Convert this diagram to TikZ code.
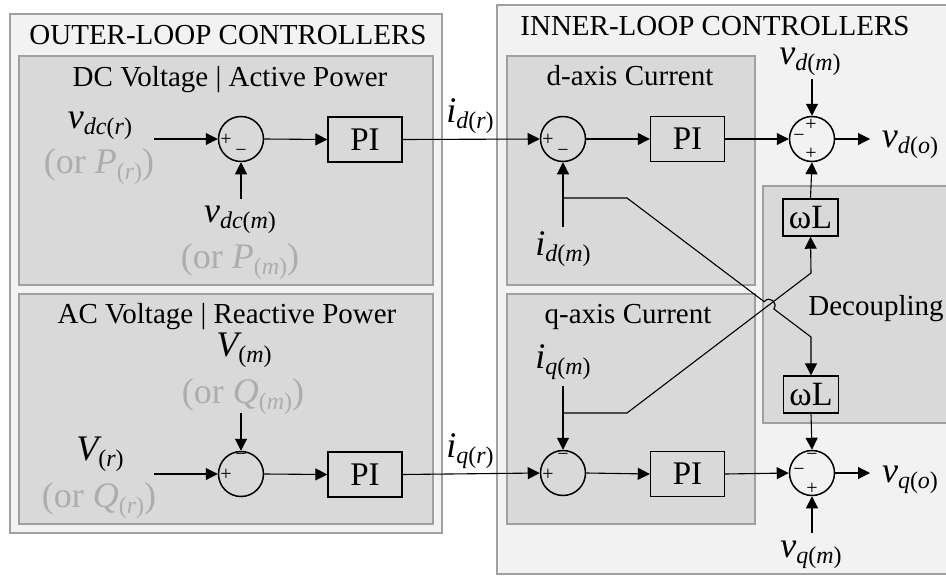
\documentclass[tikz,border=0pt]{standalone}
\usepackage{fontspec}
\setmainfont{Liberation Serif}
\usetikzlibrary{arrows.meta}
\definecolor{outerfill}{HTML}{F2F2F2}
\definecolor{innerfill}{HTML}{D9D9D9}
\definecolor{boxline}{HTML}{A0A0A0}
\definecolor{ortext}{HTML}{ADADAD}
\newcommand\bigsym[2]{{\fontsize{36}{36}\selectfont\itshape #1}\raisebox{-6pt}{\fontsize{24}{24}\selectfont #2}}
\newcommand\orlab[2]{{\fontsize{36}{36}\selectfont (or }\bigsym{#1}{(\textit{#2})}{\fontsize{36}{36}\selectfont )}}
\tikzset{
  grpouter/.style={draw=boxline, fill=outerfill, line width=1.5pt},
  grpinner/.style={draw=boxline, fill=innerfill, line width=1.5pt},
  sumnode/.style={circle, draw, line width=1.5pt, minimum size=45pt, inner sep=0pt},
  piblock/.style={draw, line width=1.4pt, minimum width=74pt, minimum height=45pt, inner sep=0pt, font=\fontsize{33}{33}\selectfont},
  wlblock/.style={draw, line width=1.4pt, minimum width=55pt, minimum height=37pt, inner sep=0pt, font=\fontsize{34}{34}\selectfont},
  sig/.style={font=\fontsize{20}{20}\selectfont, inner sep=0pt},
  conn/.style={line width=1.1pt},
  arr/.style={conn, -{Triangle[length=12pt,width=12pt]}},
  ttl/.style={anchor=base, font=\fontsize{29}{29}\selectfont, inner sep=0pt},
  lbl/.style={anchor=base, inner sep=0pt},
  graylbl/.style={anchor=base, inner sep=0pt, text=ortext}
}
\begin{document}
\begin{tikzpicture}[x=1pt,y=-1pt]
\useasboundingbox (0,0) rectangle (946,576);
% group boxes
\draw[grpouter] (10,14) rectangle (442,533);
\draw[grpinner] (19,56) rectangle (433,285);
\draw[grpinner] (19,294) rectangle (433,524);
\draw[grpouter] (497,5) rectangle (955,574);
\draw[grpinner] (507,56) rectangle (755,285);
\draw[grpinner] (507,294) rectangle (755,524);
\draw[grpinner] (763,186) rectangle (955,423);
% titles
\node[ttl] (t1) at (228,44) {OUTER-LOOP CONTROLLERS};
\node[ttl] (t2) at (230,86) {DC Voltage | Active Power};
\node[ttl] (t3) at (227,323) {AC Voltage | Reactive Power};
\node[ttl] (t4) at (715,35) {INNER-LOOP CONTROLLERS};
\node[ttl] (t5) at (630,85) {d-axis Current};
\node[ttl] (t6) at (628,323) {q-axis Current};
\node[ttl] (t7) at (876,315) {Decoupling};
% summing junctions
\node[sumnode] (s1) at (241,139) {};
\node[sumnode] (s2) at (241,474) {};
\node[sumnode] (s3) at (563,139) {};
\node[sumnode] (s4) at (563,473) {};
\node[sumnode] (s5) at (812,139) {};
\node[sumnode] (s6) at (812,473) {};
% signs
\node[sig] (g1a) at (226,140) {+};
\node[sig] (g1b) at (241,153) {−};
\node[sig] (g2a) at (226,475) {+};
\node[sig] (g2b) at (241,457) {−};
\node[sig] (g3a) at (548,140) {+};
\node[sig] (g3b) at (563,153) {−};
\node[sig] (g4a) at (548,475) {+};
\node[sig] (g4b) at (563,457) {−};
\node[sig] (g5a) at (799,138) {−};
\node[sig] (g5b) at (811,125) {+};
\node[sig] (g5c) at (811,154) {+};
\node[sig] (g6a) at (812,457) {−};
\node[sig] (g6b) at (799,472) {−};
\node[sig] (g6c) at (812,489) {+};
% blocks
\node[piblock] (p1) at (365,139.5) {PI};
\node[piblock] (p2) at (365,474.5) {PI};
\node[piblock] (p3) at (687.5,139) {PI};
\node[piblock] (p4) at (687.5,474) {PI};
\node[wlblock] (w1) at (810.5,217.5) {ωL};
\node[wlblock] (w2) at (811,394.5) {ωL};
% labels
\node[lbl] (l1) at (100,128) {\bigsym{v}{\textit{dc}(\textit{r})}};
\node[graylbl] (l2) at (99,173) {\orlab{P}{r}};
\node[lbl] (l3) at (240,222) {\bigsym{v}{\textit{dc}(\textit{m})}};
\node[graylbl] (l4) at (240,268) {\orlab{P}{m}};
\node[lbl] (l5) at (244,356) {\bigsym{V}{(\textit{m})}};
\node[graylbl] (l6) at (243,403) {\orlab{Q}{m}};
\node[lbl] (l7) at (100,460) {\bigsym{V}{(\textit{r})}};
\node[graylbl] (l8) at (99,507) {\orlab{Q}{r}};
\node[lbl] (l9) at (470,122) {\bigsym{i}{\textit{d}(\textit{r})}};
\node[lbl] (l10) at (470,457) {\bigsym{i}{\textit{q}(\textit{r})}};
\node[lbl] (l11) at (563,255) {\bigsym{i}{\textit{d}(\textit{m})}};
\node[lbl] (l12) at (563,368) {\bigsym{i}{\textit{q}(\textit{m})}};
\node[lbl] (l13) at (810,64) {\bigsym{v}{\textit{d}(\textit{m})}};
\node[lbl] (l14) at (910,147) {\bigsym{v}{\textit{d}(\textit{o})}};
\node[lbl] (l15) at (910,482) {\bigsym{v}{\textit{q}(\textit{o})}};
\node[lbl] (l16) at (811,557) {\bigsym{v}{\textit{q}(\textit{m})}};
% connector end points
\coordinate (in1) at (154,139);
\coordinate (in1m) at (241,199);
\coordinate (in2) at (154,474);
\coordinate (in2m) at (241,413);
\coordinate (idm) at (563,227);
\coordinate (iqm) at (563,386);
\coordinate (vdm) at (812,79);
\coordinate (vqm) at (812,533);
\coordinate (out1) at (870,139);
\coordinate (out2) at (870,473);
\coordinate (br1) at (563,198);
\coordinate (k1) at (627,198);
\coordinate (j1) at (764.2,301.7);
\coordinate (jc1) at (769,295.3);
\coordinate (jc2) at (778.6,302.5);
\coordinate (j2) at (773.8,308.9);
\coordinate (k2) at (811,337);
\coordinate (br2) at (563,413);
\coordinate (k3) at (627,413);
\coordinate (k4) at (811,273);
% connectors
\draw[arr] (in1) -- (s1.west);
\draw[arr] (in1m) -- (s1.south);
\draw[arr] (s1.east) -- (p1.west);
\draw[arr] (p1.east) -- (s3.west);
\draw[arr] (s3.east) -- (p3.west);
\draw[arr] (p3.east) -- (s5.west);
\draw[arr] (vdm) -- (s5.north);
\draw[arr] (s5.east) -- (out1);
\draw[arr] (w1.north) -- (s5.south);
\draw[arr] (idm) -- (s3.south);
\draw[arr] (br1) -- (k1) -- (j1) .. controls (jc1) and (jc2) .. (j2) -- (k2) -- (w2.north);
\draw[arr] (in2) -- (s2.west);
\draw[arr] (in2m) -- (s2.north);
\draw[arr] (s2.east) -- (p2.west);
\draw[arr] (p2.east) -- (s4.west);
\draw[arr] (iqm) -- (s4.north);
\draw[arr] (br2) -- (k3) -- (k4) -- (w1.south);
\draw[arr] (s4.east) -- (p4.west);
\draw[arr] (p4.east) -- (s6.west);
\draw[arr] (w2.south) -- (s6.north);
\draw[arr] (vqm) -- (s6.south);
\draw[arr] (s6.east) -- (out2);
\end{tikzpicture}
\end{document}
